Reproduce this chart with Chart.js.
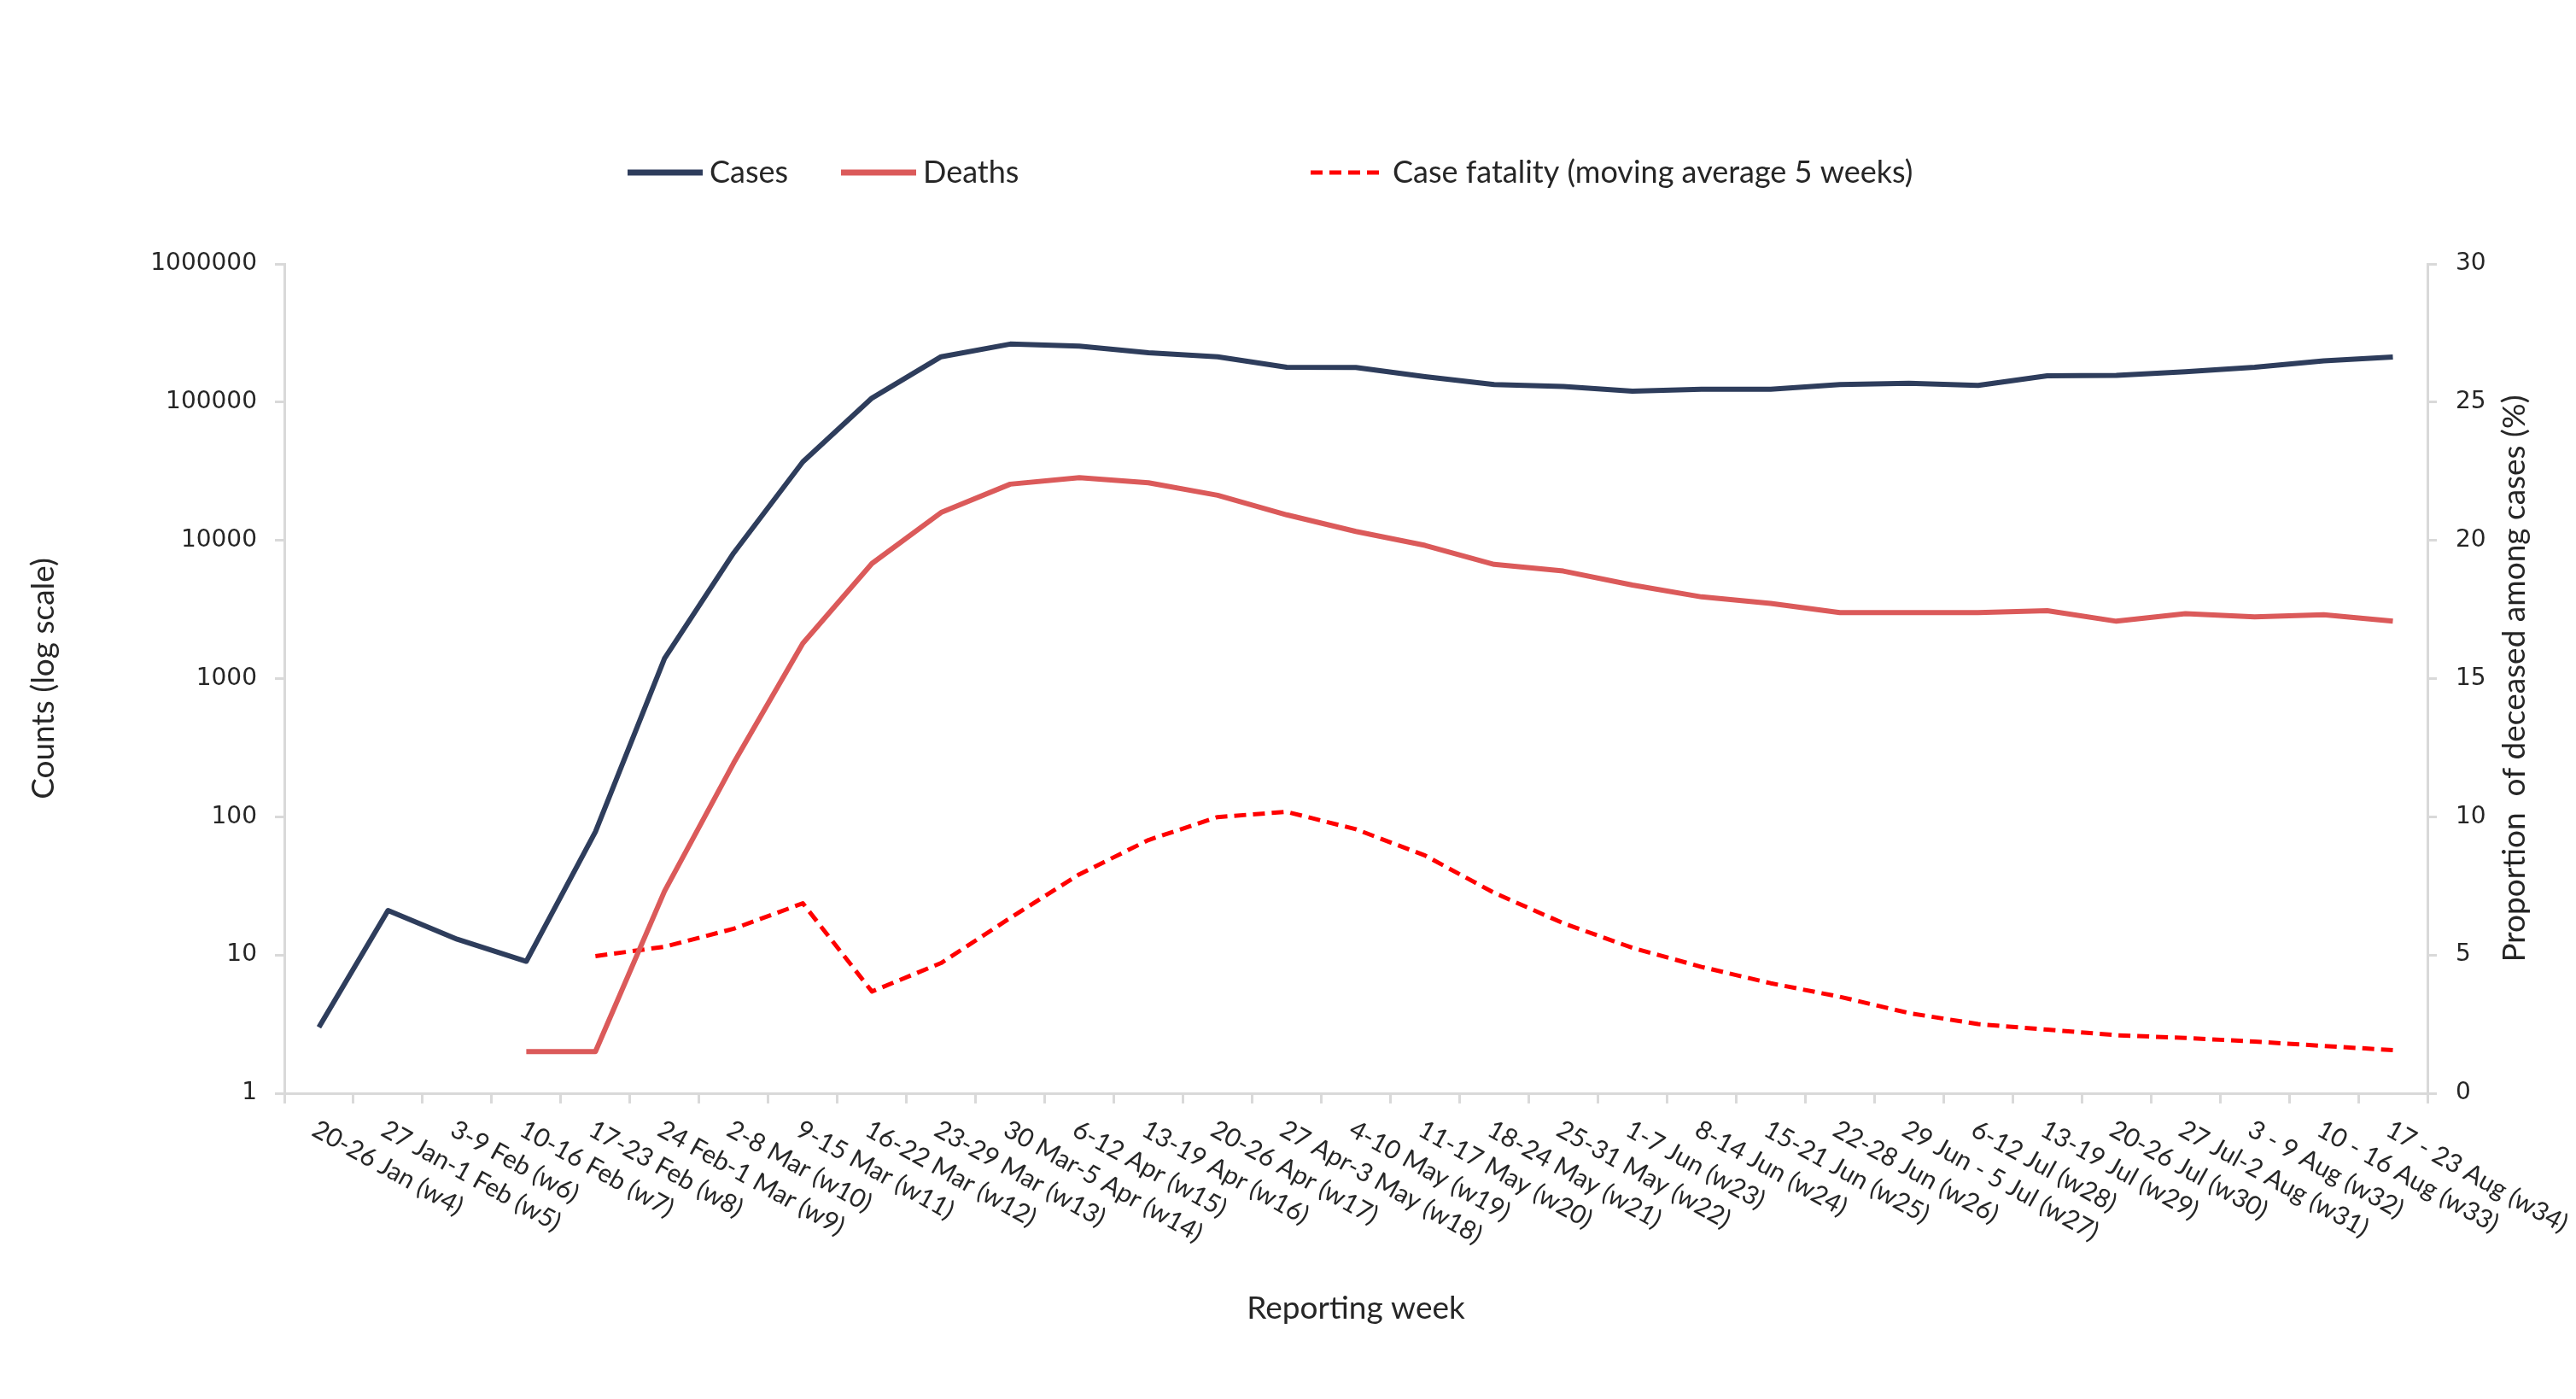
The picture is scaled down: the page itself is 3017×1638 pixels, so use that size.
<!DOCTYPE html>
<html>
<head>
<meta charset="utf-8">
<script src="https://cdn.jsdelivr.net/npm/chart.js@4/dist/chart.umd.min.js"></script>
<style>
  html, body { margin: 0; padding: 0; background: #fff; }
  #wrap { width: 3017px; height: 1638px; }
</style>
</head>
<body>
<div id="wrap"><canvas id="myChart" width="3017" height="1638"></canvas></div>
<script>
var weeks = [
  "20-26 Jan (w4)", "27 Jan-1 Feb (w5)", "3-9 Feb (w6)", "10-16 Feb (w7)",
  "17-23 Feb (w8)", "24 Feb-1 Mar (w9)", "2-8 Mar (w10)", "9-15 Mar (w11)",
  "16-22 Mar (w12)", "23-29 Mar (w13)", "30 Mar-5 Apr (w14)", "6-12 Apr (w15)",
  "13-19 Apr (w16)", "20-26 Apr (w17)", "27 Apr-3 May (w18)", "4-10 May (w19)",
  "11-17 May (w20)", "18-24 May (w21)", "25-31 May (w22)", "1-7 Jun (w23)",
  "8-14 Jun (w24)", "15-21 Jun (w25)", "22-28 Jun (w26)", "29 Jun - 5 Jul (w27)",
  "6-12 Jul (w28)", "13-19 Jul (w29)", "20-26 Jul (w30)", "27 Jul-2 Aug (w31)",
  "3 - 9 Aug (w32)", "10 - 16 Aug (w33)", "17 - 23 Aug (w34)"
];

var cases = [3, 21, 13, 9, 78, 1400, 8100, 37000, 107000, 213000, 263000,
  254000, 228000, 213000, 179000, 178000, 153000, 134000, 130000, 120000,
  124000, 124000, 134000, 137000, 132000, 155000, 156000, 166000, 179000,
  199000, 212000];

var deaths = [null, null, null, 2, 2, 29, 245, 1800, 6800, 15900, 25500,
  28400, 26100, 21200, 15300, 11600, 9200, 6700, 6000, 4750, 3900, 3500,
  3000, 3000, 3000, 3100, 2600, 2950, 2800, 2900, 2600];

// case fatality, % (moving average 5 weeks)
var fatality = [null, null, null, null, 4.96, 5.3, 5.95, 6.87, 3.68, 4.71,
  6.34, 7.92, 9.16, 9.99, 10.18, 9.55, 8.6, 7.25, 6.15, 5.26, 4.57, 3.98,
  3.49, 2.9, 2.5, 2.3, 2.1, 2.0, 1.87, 1.71, 1.56];

var countTicks = [1, 10, 100, 1000, 10000, 100000, 1000000];

var textColor = "#262626";
var axisColor = "#d9d9d9";
var calibriLike = "Lato, 'Open Sans', sans-serif";
var verdanaLike = "'DejaVu Sans', Verdana, sans-serif";

// x labels go down to the right, Chart.js only rotates the other way
var weekLabels = {
  id: "weekLabels",
  afterDraw: function (chart) {
    var ctx = chart.ctx;
    var x = chart.scales.x;
    ctx.save();
    ctx.font = "30px " + calibriLike;
    ctx.fillStyle = textColor;
    ctx.textAlign = "left";
    ctx.textBaseline = "top";
    chart.data.labels.forEach(function (lab, i) {
      ctx.save();
      ctx.translate(x.getPixelForValue(i) + 2, x.top + 27);
      ctx.rotate((29 * Math.PI) / 180);
      ctx.fillText(lab, 0, 0);
      ctx.restore();
    });
    ctx.restore();
  },
};

// legend + right axis title
var extras = {
  id: "extras",
  afterDraw: function (chart) {
    var ctx = chart.ctx;
    var itemX = [735, 985, 1535];
    var ly = 202;
    ctx.save();
    ctx.font = "36px " + calibriLike;
    ctx.textBaseline = "middle";
    ctx.fillStyle = textColor;
    chart.data.datasets.forEach(function (ds, i) {
      var lx = itemX[i];
      ctx.strokeStyle = ds.borderColor;
      ctx.lineWidth = i == 2 ? 5 : 7;
      ctx.setLineDash(ds.borderDash || []);
      ctx.beginPath();
      ctx.moveTo(lx, ly);
      ctx.lineTo(lx + 88, ly);
      ctx.stroke();
      ctx.setLineDash([]);
      ctx.textAlign = "left";
      ctx.fillText(ds.label, lx + 96, ly);
    });

    var r = chart.scales.y1;
    ctx.font = "37px " + calibriLike;
    ctx.translate(2945, (r.top + r.bottom) / 2);
    ctx.rotate(-Math.PI / 2);
    ctx.textAlign = "center";
    ctx.fillText("Proportion  of deceased among cases (%)", 0, 0);
    ctx.restore();
  },
};

var ctx = document.getElementById("myChart").getContext("2d");
var chart = new Chart(ctx, {
  type: "line",
  data: {
    labels: weeks,
    datasets: [
      {
        label: "Cases",
        data: cases,
        yAxisID: "y",
        borderColor: "#2e3d5c",
        borderWidth: 6,
      },
      {
        label: "Deaths",
        data: deaths,
        yAxisID: "y",
        borderColor: "#db5a5a",
        borderWidth: 6,
      },
      {
        label: "Case fatality (moving average 5 weeks)",
        data: fatality,
        yAxisID: "y1",
        borderColor: "#ff0000",
        borderWidth: 5,
        borderDash: [14, 8],
      },
    ],
  },
  options: {
    responsive: false,
    devicePixelRatio: 1,
    animation: false,
    elements: {
      point: { radius: 0 },
      line: { tension: 0, borderJoinStyle: "round" },
    },
    layout: { padding: { top: 309, left: 0, right: 0, bottom: 0 } },
    plugins: {
      legend: { display: false },
      tooltip: { enabled: false },
    },
    scales: {
      x: {
        offset: true,
        grid: {
          offset: true,
          drawOnChartArea: false,
          color: axisColor,
          lineWidth: 3,
          tickLength: 12,
        },
        border: { color: axisColor, width: 3 },
        ticks: { display: false },
        title: {
          display: true,
          text: "Reporting week",
          color: textColor,
          font: { family: calibriLike, size: 37 },
          padding: { top: 0, bottom: 84 },
        },
        afterFit: function (s) {
          s.height = 358;
        },
      },
      y: {
        type: "logarithmic",
        position: "left",
        min: 1,
        max: 1000000,
        afterBuildTicks: function (s) {
          s.ticks = countTicks.map(function (v) {
            return { value: v };
          });
        },
        grid: {
          drawOnChartArea: false,
          color: axisColor,
          lineWidth: 3,
          tickLength: 11,
        },
        border: { color: axisColor, width: 3 },
        ticks: {
          color: textColor,
          font: { family: verdanaLike, size: 28 },
          padding: 21,
          callback: function (v) {
            return String(v);
          },
        },
        title: {
          display: true,
          text: "Counts (log scale)",
          color: textColor,
          font: { family: calibriLike, size: 37 },
          padding: { top: 29, bottom: 0 },
        },
        afterFit: function (s) {
          s.width = 333;
        },
      },
      y1: {
        position: "right",
        min: 0,
        max: 30,
        grid: {
          drawOnChartArea: false,
          color: axisColor,
          lineWidth: 3,
          tickLength: 11,
        },
        border: { color: axisColor, width: 3 },
        ticks: {
          stepSize: 5,
          color: textColor,
          font: { family: verdanaLike, size: 28 },
          padding: 22,
        },
        afterFit: function (s) {
          s.width = 174;
        },
      },
    },
  },
  plugins: [weekLabels, extras],
});
</script>
</body>
</html>
